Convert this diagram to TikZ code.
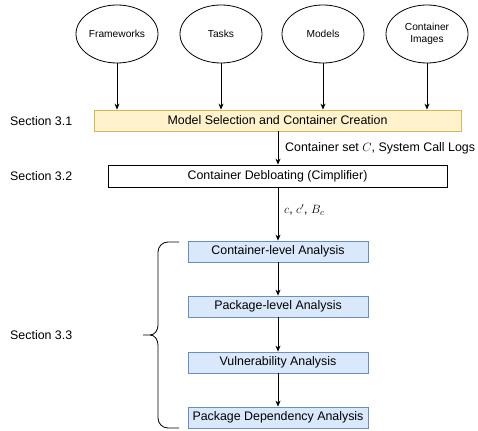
\documentclass[tikz,border=0pt]{standalone}
\usepackage{fontspec}
\setmainfont{Liberation Sans}
\usetikzlibrary{shapes.geometric,arrows.meta,decorations.pathreplacing}
\definecolor{ylwfill}{HTML}{FFF2CC}
\definecolor{ylwdraw}{HTML}{D6B656}
\definecolor{bluefill}{HTML}{DAE8FC}
\definecolor{bluedraw}{HTML}{6C8EBF}
\tikzset{
  src/.style={ellipse,draw,line width=0.8pt,minimum width=82pt,minimum height=58pt,inner sep=0pt,font=\fontsize{10.2}{11.8}\selectfont,align=center},
  stage/.style={draw,line width=0.8pt,inner sep=0pt,font=\fontsize{12.4}{14}\selectfont},
  ana/.style={stage,draw=bluedraw,fill=bluefill,minimum width=180pt,minimum height=21pt},
  sec/.style={anchor=west,inner sep=0pt,font=\fontsize{12.4}{14}\selectfont},
  lbl/.style={anchor=west,inner sep=0pt,font=\fontsize{12.4}{14}\selectfont},
  arr/.style={-{Stealth[length=6pt,width=5pt]},line width=0.8pt}
}
\begin{document}
\begin{tikzpicture}[x=1pt,y=-1pt]
\useasboundingbox (0,0) rectangle (478,430);
\node[src] (fw) at (117,34) {Frameworks};
\node[src] (tk) at (221,34) {Tasks};
\node[src] (md) at (323,34) {Models};
\node[src] (ci) at (427,34) {Container\\Images};
\node[stage,draw=ylwdraw,fill=ylwfill,minimum width=367pt,minimum height=21pt] (msc) at (277.5,120.5) {Model Selection and Container Creation};
\node[stage,fill=white,minimum width=339pt,minimum height=22pt] (cd) at (277.5,176) {Container Debloating (Cimplifier)};
\node[ana] (cl) at (278,251.5) {Container-level Analysis};
\node[ana] (pl) at (278,306.5) {Package-level Analysis};
\node[ana] (va) at (278,362.5) {Vulnerability Analysis};
\node[ana] (pd) at (278,417.5) {Package Dependency Analysis};
\node[sec] (s1) at (10,121) {Section 3.1};
\node[sec] (s2) at (10,176) {Section 3.2};
\node[sec] (s3) at (10,335) {Section 3.3};
\foreach \n/\x in {fw/118,tk/222,md/324,ci/428}
  \draw[arr] (\n.south |- 0,63) -- (\n.south |- msc.north);
\draw[arr] (msc.south -| 278,0) -- (278,0 |- cd.north);
\node[lbl] (l1) at (285,148) {Container set $C$, System Call Logs};
\draw[arr] (cd.south -| 278,0) -- (cl.north);
\node[lbl] (l2) at (284,210) {$c$, $c'$, $B_c$};
\draw[arr] (cl) -- (pl);
\draw[arr] (pl) -- (va);
\draw[arr] (va) -- (pd);
\coordinate (bt) at (179,242);
\coordinate (bb) at (179,428);
\draw[line width=0.8pt] (bt) -- (168,242) to[out=180,in=90] (158,252) -- (158,325) to[out=270,in=0] (150,335) -- (143,335);
\draw[line width=0.8pt] (bb) -- (168,428) to[out=180,in=270] (158,418) -- (158,345) to[out=90,in=0] (150,335);
\end{tikzpicture}
\end{document}
